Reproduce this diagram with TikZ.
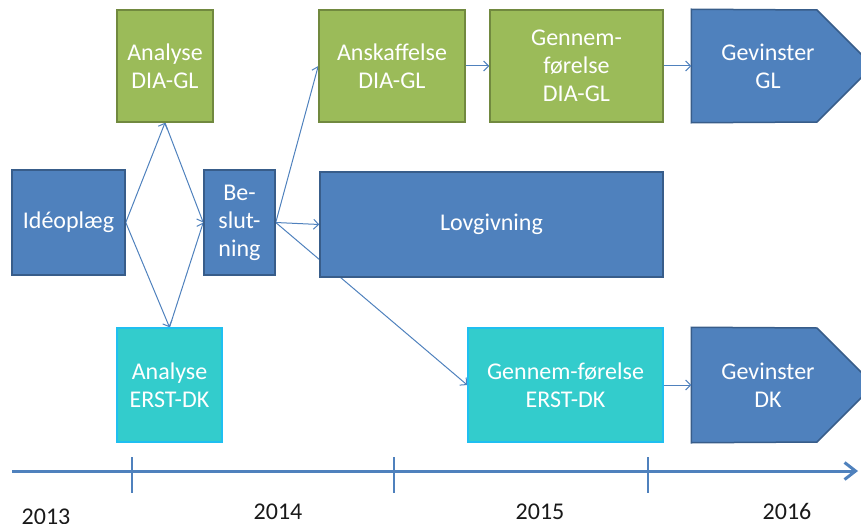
\documentclass[tikz,border=0pt]{standalone}
\usepackage{fontspec}
\setmainfont{Carlito}
\usetikzlibrary{arrows.meta,backgrounds}
\definecolor{gfill}{HTML}{9BBB59}
\definecolor{gline}{HTML}{71893F}
\definecolor{bfill}{HTML}{4F81BD}
\definecolor{bline}{HTML}{385D8A}
\definecolor{cfill}{HTML}{33CCCC}
\definecolor{cline}{HTML}{1FBFF0}
\begin{document}
\begin{tikzpicture}[x=1pt,y=-1pt,
  box/.style={rectangle, inner sep=0pt, line width=1.5pt, text=white, align=center,
    font=\fontsize{24}{28}\selectfont},
  gbox/.style={box, fill=gfill, draw=gline},
  bbox/.style={box, fill=bfill, draw=bline},
  cbox/.style={box, fill=cfill, draw=cline},
  tbox/.style={box, draw=none, fill=none},
  conn/.style={draw=bfill, line width=1pt, -{Straight Barb[length=5pt,width=10pt]}},
  year/.style={anchor=base, inner sep=0pt, font=\fontsize{24}{28}\selectfont, text=black!90}
]
\useasboundingbox (0,0) rectangle (861,524);
\clip (0,0) rectangle (861,524);

% boxes
\node[gbox, minimum width=96pt, minimum height=112pt] (aDIA) at (165,66) {Analyse\\DIA-GL};
\node[bbox, minimum width=113pt, minimum height=105pt] (ideo) at (68.5,222.5) {Idéoplæg};
\node[bbox, minimum width=71pt, minimum height=105pt] (besl) at (239.5,222.5) {Be-\\slut-\\ning};
\node[gbox, minimum width=146pt, minimum height=112pt] (ansk) at (392,66) {Anskaffelse\\DIA-GL};
\node[gbox, minimum width=173pt, minimum height=112pt] (genGL) at (576.5,66) {Gennem-\\førelse\\DIA-GL};
\node[bbox, minimum width=343pt, minimum height=105pt] (lov) at (491.5,224.5) {Lovgivning};
\node[cbox, minimum width=105pt, minimum height=114pt] (aDK) at (169.5,385) {Analyse\\ERST-DK};
\node[cbox, minimum width=195pt, minimum height=114pt] (genDK) at (565.5,385) {Gennem-førelse\\ERST-DK};

% pentagons
\node[tbox, minimum width=152pt, minimum height=112pt] (gevGL) at (768,66) {};
\node[tbox, minimum width=152pt, minimum height=114pt] (gevDK) at (768,385) {};
\begin{pgfonlayer}{background}
\draw[fill=bfill, draw=bline, line width=1.5pt]
  (gevGL.north west) -- (817,10) -- (873,66) -- (817,122) -- (gevGL.south west) -- cycle;
\draw[fill=bfill, draw=bline, line width=1.5pt]
  (gevDK.north west) -- (817,328) -- (874,385) -- (817,442) -- (gevDK.south west) -- cycle;
\end{pgfonlayer}
\node[tbox] at (gevGL) {Gevinster\\GL};
\node[tbox] at (gevDK) {Gevinster\\DK};

% connectors
\begin{pgfonlayer}{background}
\draw[conn] (ideo.east) -- (aDIA.south);
\draw[conn] (ideo.east) -- (aDK.north);
\draw[conn] (aDIA.south) -- (besl.west);
\draw[conn] (aDK.north) -- (besl.west);
\draw[conn] (besl.east) -- (ansk.west);
\draw[conn] (besl.east) -- (lov.west);
\draw[conn] (besl.east) -- (genDK.west);
\draw[conn] (ansk.east) -- (genGL.west);
\draw[conn] (genGL.east) -- (gevGL.west);
\draw[conn] (genDK.east) -- (gevDK.west);
\end{pgfonlayer}

% timeline
\coordinate (t0) at (12,471);
\coordinate (t1) at (858,471);
\draw[bfill, line width=3pt, -{Straight Barb[length=11pt,width=17pt]}] (t0) -- (t1);
\foreach \x in {132,394,648} \draw[bfill, line width=2pt] (\x,457) -- (\x,493);
\node[year] (y13) at (46,524) {2013};
\node[year] (y14) at (278,519) {2014};
\node[year] (y15) at (540,519) {2015};
\node[year] (y16) at (787,519) {2016};
\end{tikzpicture}
\end{document}
